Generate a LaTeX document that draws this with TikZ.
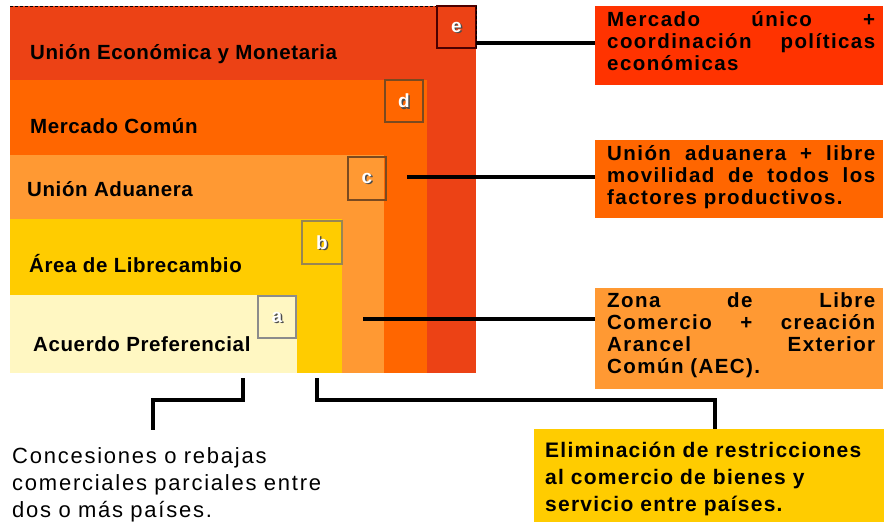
\documentclass[tikz,border=0pt]{standalone}
\usepackage{fontspec}
\setmainfont{Liberation Sans}
\newfontfamily\labfont[LetterSpace=3]{Liberation Sans}
\newfontfamily\rfont[LetterSpace=7]{Liberation Sans}
\newfontfamily\brfont[LetterSpace=6]{Liberation Sans}
\newfontfamily\blfont[LetterSpace=8]{Liberation Sans}
\usetikzlibrary{calc}
\definecolor{cE}{HTML}{EC4215}
\definecolor{cEbox}{HTML}{FF3300}
\definecolor{cD}{HTML}{FF6600}
\definecolor{cC}{HTML}{FF9933}
\definecolor{cB}{HTML}{FFCC00}
\definecolor{cA}{HTML}{FFF7C2}
\definecolor{tagline}{HTML}{7A4A20}
\newcommand{\jline}[1]{\leavevmode\hbox to 268pt{#1}}
\tikzset{
  region/.style={draw=none, anchor=north west, inner sep=0pt, outer sep=0pt},
  tag/.style={draw=#1, line width=1.2pt, anchor=north west, inner sep=0pt, outer sep=0pt},
  letter/.style={text=white, font=\bfseries\fontsize{19pt}{19pt}\selectfont, inner sep=0pt},
  lettershadow/.style={text=black!70, font=\bfseries\fontsize{19pt}{19pt}\selectfont, inner sep=0pt},
  lab/.style={anchor=base west, inner sep=0pt, font=\labfont\bfseries\fontsize{20.5pt}{22pt}\selectfont},
  desc/.style={draw=none, anchor=north west, inner sep=0pt, outer sep=0pt, minimum width=288pt},
  rtext/.style={anchor=base west, inner sep=0pt, text width=268pt, align=left,
    font=\rfont\bfseries\fontsize{20.5pt}{22pt}\selectfont},
  conn/.style={draw=black, line width=3.2pt},
}
\begin{document}
\begin{tikzpicture}[x=1pt, y=-1pt]
\useasboundingbox (0,0) rectangle (884,523);
% nested regions
\node[region, fill=cE, minimum width=466pt, minimum height=367pt] (E) at (10,6) {};
\node[region, fill=cD, minimum width=417pt, minimum height=293pt] (D) at (10,80) {};
\node[region, fill=cC, minimum width=374pt, minimum height=218pt] (C) at (10,155) {};
\node[region, fill=cB, minimum width=332pt, minimum height=154pt] (B) at (10,219) {};
\node[region, fill=cA, minimum width=287pt, minimum height=78pt] (A) at (10,295) {};
\draw[black, line width=1pt, dash pattern=on 3pt off 2pt] (E.north west) -- (E.north east);
% tags
\node[tag=black!70!red, minimum width=39pt, minimum height=42pt] (eb) at (437,6) {};
\draw[black, line width=1pt, dash pattern=on 3pt off 2pt] (eb.north east) -- (eb.south east);
\node[tag=tagline, minimum width=38pt, minimum height=42pt] (db) at (385,80) {};
\node[tag=tagline, minimum width=38pt, minimum height=43pt] (cb) at (348,157) {};
\node[tag=black!60!yellow!60!brown, minimum width=40pt, minimum height=43pt] (bb) at (302,221) {};
\node[tag=black!45, minimum width=38pt, minimum height=42pt] (ab) at (258,296) {};
\foreach \t/\l in {eb/e, db/d, cb/c, bb/b, ab/a}{
  \node[lettershadow] (\t s) at ($(\t.center)+(1.3,1.3)$) {\l};
  \node[letter] (\t l) at (\t.center) {\l};
}
% level labels
\node[lab] (le) at (30,59) {Unión Económica y Monetaria};
\node[lab] (ld) at (30,133) {Mercado Común};
\node[lab] (lc) at (27,196) {Unión Aduanera};
\node[lab] (lb) at (29,272) {Área de Librecambio};
\node[lab] (la) at (33,351) {Acuerdo Preferencial};
% description boxes
\node[desc, fill=cEbox, minimum height=79pt] (r1) at (595,6) {};
\node[desc, fill=cD, minimum height=78pt] (r2) at (595,140) {};
\node[desc, fill=cC, minimum height=101pt] (r3) at (595,288) {};
\node[desc, fill=cB, minimum width=350pt, minimum height=93pt] (r4) at (534,429) {};
\node[rtext] (r1t) at (607,26) {\jline{Mercado\hfill único\hfill +}\\\jline{coordinación\hfill políticas}\\económicas};
\node[rtext] (r2t) at (607,160) {\jline{Unión\hfill aduanera\hfill +\hfill libre}\\\jline{movilidad\hfill de\hfill todos\hfill los}\\factores productivos.};
\node[rtext] (r3t) at (607,307) {\jline{Zona\hfill de\hfill Libre}\\\jline{Comercio\hfill +\hfill creación}\\\jline{Arancel\hfill Exterior}\\Común (AEC).};
\node[anchor=base west, inner sep=0pt, text width=335pt, align=left,
  font=\brfont\bfseries\fontsize{21pt}{27pt}\selectfont] (r4t) at (545,457)
  {Eliminación de restricciones\\al comercio de bienes y\\servicio entre países.};
\node[anchor=base west, inner sep=0pt, text width=340pt, align=left,
  font=\blfont\fontsize{22pt}{27pt}\selectfont] (tl) at (12,463)
  {Concesiones o rebajas\\comerciales parciales entre\\dos o más países.};
% connectors
\coordinate (e0) at ($(eb.south east)+(0,-5)$);
\draw[conn] (e0) -- (e0 -| r1.west);
\coordinate (c0) at ($(cb.east)+(21,-1.5)$);
\draw[conn] (c0) -- (c0 -| r2.west);
\coordinate (b0) at ($(C.south west)+(353,-54)$);
\draw[conn] (b0) -- (b0 -| r3.west);
\coordinate (a0) at ($(A.south west)+(233,5)$);
\coordinate (aEnd) at (153,430);
\draw[conn] (a0) -- ++(0,22) -| (aEnd);
\coordinate (b1) at ($(B.south west)+(307,5)$);
\draw[conn] (b1) -- ++(0,22) -| ($(r4.north)+(6,0)$);
\end{tikzpicture}
\end{document}
